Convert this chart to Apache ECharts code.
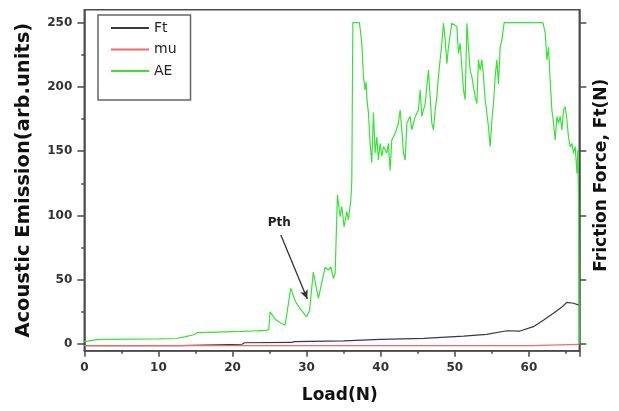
<!DOCTYPE html>
<html>
<head>
<meta charset="utf-8">
<script src="https://cdn.jsdelivr.net/npm/echarts@6/dist/echarts.min.js"></script>
<style>
  html, body { margin: 0; padding: 0; background: #fff; }
  #chart { width: 619px; height: 411px; }
</style>
</head>
<body>
<div id="chart"></div>
<script>
// Load (N) sample positions and acoustic emission readings
const aeLoad = [0, 1.5, 2.5, 6, 10, 12.5, 13.5, 14.8, 15.2, 18, 21, 23, 24.6, 24.9, 25.07, 25.8, 26.6, 27.1, 27.86,
  28.5, 29.2, 30.0, 30.4, 30.9, 31.59, 32.5, 32.94, 33.27, 33.62, 33.85, 34.16, 34.52, 34.75, 35.06, 35.43, 35.64,
  35.97, 36.1, 36.24, 37.13, 37.45, 37.67, 37.9, 38.03, 38.13, 38.34, 38.57, 38.8, 39.02, 39.25, 39.48, 39.69, 39.92,
  40.15, 40.37, 40.83, 41.04, 41.27, 41.5, 41.95, 42.39, 42.62, 42.85, 43.07, 43.3, 43.53, 43.97, 44.2, 44.65, 45.09,
  45.32, 45.55, 46.0, 46.44, 46.67, 46.9, 47.12, 47.35, 47.58, 47.79, 48.25, 48.47, 48.7, 48.93, 49.14, 49.6, 49.82,
  50.28, 50.49, 50.72, 51.17, 51.4, 51.63, 51.84, 52.07, 52.3, 52.52, 52.75, 52.98, 53.19, 53.42, 53.65, 53.87, 54.1,
  54.33, 54.54, 54.77, 55.0, 55.22, 55.45, 55.68, 55.89, 56.12, 56.35, 56.66, 61.89, 62.2, 62.43, 62.64, 62.87, 63.1,
  63.32, 63.55, 63.78, 63.99, 64.22, 64.45, 64.67, 64.9, 65.13, 65.34, 65.57, 65.8, 66.02, 66.25, 66.48, 66.61, 66.72, 66.8];
const aeValues = [1.8, 3.2, 3.6, 3.8, 4.0, 4.3, 5.5, 7.2, 8.8, 9.3, 9.8, 10.2, 10.6, 11.5, 25.1, 19, 16.0, 14.8, 43.3,
  33, 27, 21.2, 26, 56.0, 35.5, 59.7, 57.6, 60.0, 51.0, 55.0, 116.0, 99.0, 106.8, 91.0, 103.0, 96.5,
  112.0, 127, 250, 250, 234, 208, 197.6, 204, 191, 180, 156, 141, 180, 148.6, 161, 143, 156,
  146, 153.5, 148.6, 156, 135, 158.7, 164, 171.7, 182, 166.5, 148.4, 143, 171.7, 177, 166.5, 177, 182,
  197.6, 177, 187, 213, 192.4, 171.7, 166.5, 182, 192.4, 208, 234, 249.5, 236.5, 218, 231, 249.5, 249.5,
  247, 226, 234, 197.6, 190, 249.5, 231, 213, 208, 200, 192.4, 187, 221, 213, 221, 208, 190,
  179.5, 169, 153.5, 174, 187, 208, 221, 202, 231, 236.5, 250, 250, 241.7, 221, 231, 205, 182,
  171.7, 158.7, 177, 171.7, 177, 166.5, 182, 184.6, 174, 161, 153.5, 156, 148.4, 153.5, 132.8, 151, 100, 0];

// Friction force Ft
const ftLoad = [0, 12.8, 13.0, 21.3, 21.6, 28.0, 28.3, 35, 39.9, 45.8, 51.2, 54.3, 57.0, 58.8, 60.6, 62.0, 63.3, 64.5, 65.1, 66.0, 66.8];
const ftValues = [-1.2, -1.2, -0.2, -0.2, 1.0, 1.2, 1.9, 2.4, 3.6, 4.4, 6.2, 7.5, 10.3, 10.1, 13.5, 18.7, 23.9, 29.0, 32.4, 31.7, 30.3];

// Friction coefficient mu
const muLoad = [0, 60.5, 60.7, 66.8];
const muValues = [-1.3, -1.3, -0.3, -0.3];

// Axis ticks
const yMajorTicks = [0, 50, 100, 150, 200, 250];
const yMinorTicks = [25, 75, 125, 175, 225];
const xTickStep = 10;

// Threshold annotation: label position and arrow (load, value)
const pthLabel = [26.3, 94];
const pthArrowFrom = [26.52, 84.8];
const pthArrowTo = [30.1, 35];

const zip = (xs, ys) => xs.map((x, i) => [x, ys[i]]);

const axisColor = '#4a4a4a';
const font = 'DejaVu Sans';
const colFt = '#3a3a3a';
const colMu = '#f06a6a';
const colAE = '#36e436';

const chart = echarts.init(document.getElementById('chart'));
chart.setOption({
  animation: false,
  backgroundColor: '#fff',
  grid: {
    left: 84.3, right: 39.7, top: 9.7, bottom: 60.3,
    show: true, borderColor: axisColor, borderWidth: 1.5
  },
  legend: {
    orient: 'vertical',
    left: 98, top: 15,
    padding: [6, 14, 22, 12],
    itemWidth: 38, itemHeight: 14, itemGap: 7.5,
    borderColor: '#666', borderWidth: 1.5, borderRadius: 0,
    backgroundColor: '#fff',
    itemStyle: { opacity: 0 },
    textStyle: { fontFamily: font, fontSize: 14, color: '#222' },
    data: ['Ft', 'mu', 'AE']
  },
  xAxis: {
    type: 'value', min: 0, max: 66.8, interval: xTickStep,
    name: 'Load(N)', nameLocation: 'middle', nameGap: 36,
    nameTextStyle: { fontFamily: font, fontWeight: 'bold', fontSize: 17, color: '#111', padding: [0, 0, 0, 16] },
    axisLine: { onZero: false, lineStyle: { color: axisColor, width: 1.5 } },
    axisTick: { length: 6, lineStyle: { color: axisColor, width: 1.5 } },
    minorTick: { show: true, splitNumber: 2, length: 3, lineStyle: { color: axisColor, width: 1.5 } },
    axisLabel: { fontFamily: font, fontWeight: 'bold', fontSize: 12, color: '#333', margin: 11,
      showMaxLabel: false },
    splitLine: { show: false }
  },
  yAxis: [
    {
      type: 'value', min: -5.2, max: 260, position: 'left',
      name: 'Acoustic Emission(arb.units)', nameLocation: 'middle', nameGap: 50, nameRotate: 90,
      nameTextStyle: { fontFamily: font, fontWeight: 'bold', fontSize: 19.5, color: '#111' },
      axisLine: { show: true, lineStyle: { color: axisColor, width: 1.5 } },
      axisTick: { show: true, length: 7, customValues: yMajorTicks, lineStyle: { color: axisColor, width: 1.5 } },
      axisLabel: { fontFamily: font, fontWeight: 'bold', fontSize: 12, color: '#333', margin: 12,
        customValues: yMajorTicks },
      splitLine: { show: false }
    },
    {
      type: 'value', min: -5.2, max: 260, position: 'right',
      name: 'Friction Force, Ft(N)', nameLocation: 'middle', nameGap: 14, nameRotate: 90,
      nameTextStyle: { fontFamily: font, fontWeight: 'bold', fontSize: 17, color: '#111', padding: [0, 0, 0, 10] },
      axisLine: { show: true, lineStyle: { color: axisColor, width: 1.5 } },
      axisTick: { show: true, length: 7, customValues: yMajorTicks, lineStyle: { color: axisColor, width: 1.5 } },
      axisLabel: { show: false, customValues: yMajorTicks },
      splitLine: { show: false }
    },
    {
      type: 'value', min: -5.2, max: 260, position: 'left',
      axisLine: { show: false },
      axisTick: { show: true, length: 3, customValues: yMinorTicks, lineStyle: { color: axisColor, width: 1.5 } },
      axisLabel: { show: false, customValues: yMinorTicks },
      splitLine: { show: false }
    }
  ],
  series: [
    {
      name: 'Ft', type: 'line', yAxisIndex: 1, symbol: 'none',
      lineStyle: { color: colFt, width: 1.2 }, itemStyle: { color: colFt },
      data: zip(ftLoad, ftValues)
    },
    {
      name: 'mu', type: 'line', yAxisIndex: 1, symbol: 'none',
      lineStyle: { color: colMu, width: 1.2 }, itemStyle: { color: colMu },
      data: zip(muLoad, muValues)
    },
    {
      name: 'AE', type: 'line', yAxisIndex: 0, symbol: 'none',
      lineStyle: { color: colAE, width: 1.2 }, itemStyle: { color: colAE },
      data: zip(aeLoad, aeValues),
      markLine: {
        silent: true, animation: false,
        symbol: ['none', 'arrow'], symbolSize: [6, 9],
        lineStyle: { color: '#333', width: 1.3, type: 'solid' },
        label: { show: false },
        data: [[{ coord: pthArrowFrom }, { coord: pthArrowTo }]]
      },
      markPoint: {
        silent: true, animation: false,
        symbol: 'circle', symbolSize: 0,
        label: { show: true, position: 'inside', formatter: 'Pth',
          fontFamily: font, fontWeight: 'bold', fontSize: 12, color: '#222' },
        data: [{ coord: pthLabel }]
      }
    }
  ]
});
</script>
</body>
</html>
